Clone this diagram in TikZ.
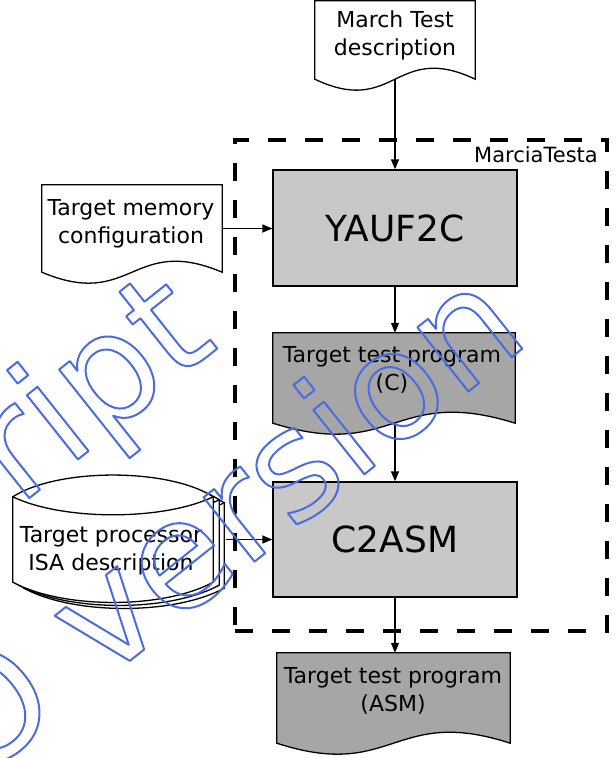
\documentclass[tikz,border=0pt]{standalone}
\usepackage{fontspec}
\setmainfont{DejaVu Sans}
\newfontfamily\stampfont{DejaVu Sans}
\usetikzlibrary{arrows.meta,calc}

\definecolor{boxgray}{RGB}{200,200,200}
\definecolor{docgray}{RGB}{166,166,166}

\tikzset{
  outline/.style={draw=black, line width=1.3pt},
  procbox/.style={outline, fill=boxgray, minimum width=244pt, minimum height=115pt,
    inner sep=0pt, font=\fontsize{36}{40}\selectfont},
  docarea/.style={inner sep=0pt, minimum width=#1},
  lbl/.style={align=center, inner sep=0pt, font=\fontsize{22}{28}\selectfont},
  flow/.style={line width=1.3pt, -{Triangle[length=10pt,width=8pt]}},
  toolframe/.style={draw=black, line width=3.5pt, dash pattern=on 18pt off 19pt,
    inner sep=0pt, minimum width=372pt, minimum height=491pt},
  stamp/.style={rotate=38.5, anchor=base west, inner sep=0pt,
    font=\stampfont\fontsize{150}{150}\selectfont},
}

% document symbol: straight top and sides, wavy bottom edge
\newcommand\docshape[2]{%
  \draw[outline, fill=#2] (#1.north west) -- (#1.north east) -- (#1.south east)
    .. controls ($(#1.south)+(0,-38)$) and ($(#1.south)+(0,38)$) .. (#1.south west) -- cycle;}

% one sheet of the stacked drum symbol, shifted by (#1,#2)
\newcommand\drumlayer[2]{%
  \draw[outline, fill=white] ([shift={(#1,#2)}]isa.north west)
    .. controls +(45,-29) and +(-45,-29) .. ([shift={(#1,#2)}]isa.north east)
    -- ([shift={(#1,#2)}]isa.south east)
    .. controls +(-50,27) and +(50,27) .. ([shift={(#1,#2)}]isa.south west) -- cycle;
  \draw[outline] ([shift={(#1,#2)}]isa.north west)
    .. controls +(50,24) and +(-50,24) .. ([shift={(#1,#2)}]isa.north east);}

% outlined text for the diagonal stamp
\newcommand\hollow[1]{\special{pdf:literal direct 0.30 0.42 0.88 RG 2 w 1 j 1 Tr}#1\special{pdf:literal direct 0 Tr}}

\begin{document}
\begin{tikzpicture}[x=1pt, y=-1pt]
\useasboundingbox (0,0) rectangle (616,758);
\clip (0,0) rectangle (616,758);

% tool boundary
\node[toolframe] (marcia) at (421,385.5) {};
\node[anchor=base east, inner sep=0pt, font=\fontsize{21}{24}\selectfont] (marcialbl) at (598,162) {MarciaTesta};

% areas of the document symbols
\node[docarea=160pt, minimum height=78pt] (march) at (395,40) {};
\node[docarea=180pt, minimum height=87pt] (mem) at (132,228.5) {};
\node[docarea=242pt, minimum height=90pt] (cprog) at (394,378) {};
\node[docarea=233pt, minimum height=90pt] (asm) at (393.5,698) {};
\node[docarea=200pt, minimum height=85pt] (isa) at (113,539.5) {};

\docshape{march}{white}
\docshape{mem}{white}
\docshape{cprog}{docgray}
\docshape{asm}{docgray}

\drumlayer{11}{6}
\drumlayer{6}{3}
\drumlayer{0}{0}

% labels
\node[lbl] (marchtxt) at (395,35.3) {March Test\\description};
\node[lbl] (memtxt) at (131,223.6) {Target memory\\configuration};
\node[lbl] (cprogtxt) at (392,369.5) {Target test program\\(C)};
\node[lbl] (asmtxt) at (393,691) {Target test program\\(ASM)};
\node[lbl] (isatxt) at (111,550.6) {Target processor\\ISA description};

% processing steps
\node[procbox, minimum height=116pt] (yauf) at (395,228) {YAUF2C};
\node[procbox] (c2asm) at (395,539.5) {C2ASM};

% flows
\draw[flow] (march.south) -- (yauf.north);
\draw[flow] (mem.east) -- (mem.east -| yauf.west);
\draw[flow] (yauf.south) -- (yauf.south |- cprog.north);
\draw[flow] (c2asm.north |- cprog.south) -- (c2asm.north);
\draw[flow] ([xshift=13pt]isa.east) -- (isa.east -| c2asm.west);
\draw[flow] (c2asm.south) -- (c2asm.south |- asm.north);

% diagonal stamp
\node[stamp] (stampa) at (18.5,506.7) {\hollow{ript}};
\node[stamp] (stampb) at (-27.5,786) {\hollow{O version}};
\end{tikzpicture}
\end{document}
